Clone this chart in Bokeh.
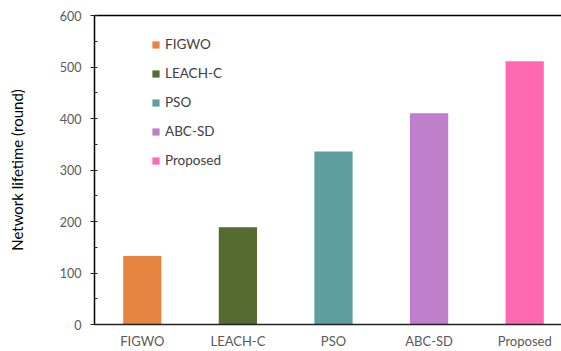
from bokeh.plotting import figure
from bokeh.models import (ColumnDataSource, Range1d, LinearAxis, FixedTicker,
                          SingleIntervalTicker, Legend, LegendItem)
from bokeh.embed import file_html
from bokeh.resources import INLINE

# Network lifetime (rounds) per clustering method
methods = ["FIGWO", "LEACH-C", "PSO", "ABC-SD", "Proposed"]
lifetime = [133, 189, 336, 410, 511]
colors = ["#E5853F", "#556B2F", "#5F9EA0", "#BF7FCB", "#FF69B4"]

FONT = "Lato"
positions = list(range(len(methods)))

p = figure(width=561, height=351, output_backend="svg", toolbar_location=None,
           x_range=Range1d(-0.5, 4.385), y_range=Range1d(0, 600),
           min_border_left=94, min_border_right=0, min_border_top=15,
           min_border_bottom=27)
p.outline_line_color = None
p.background_fill_color = "white"
p.border_fill_color = "white"
p.grid.grid_line_color = None

renderers = []
for i in positions:
    sub = ColumnDataSource(data=dict(x=[positions[i]], top=[lifetime[i]]))
    r = p.vbar(x="x", top="top", width=0.4, source=sub, fill_color=colors[i],
               line_color=None)
    renderers.append(r)

# y axis: major ticks outward, minor ticks inward
yax = p.yaxis[0]
yax.ticker = SingleIntervalTicker(interval=100, num_minor_ticks=2)
yax.axis_line_color = "black"
yax.axis_line_width = 1.5
yax.major_tick_out = 4
yax.major_tick_in = 0
yax.minor_tick_in = 3
yax.minor_tick_out = 0
yax.major_tick_line_color = "#222222"
yax.minor_tick_line_color = "#222222"
yax.major_label_text_font = FONT
yax.major_label_text_font_size = "12.5px"
yax.major_label_text_color = "#595959"
yax.major_label_standoff = 9
yax.axis_label = "Network lifetime (round)"
yax.axis_label_text_font = FONT
yax.axis_label_text_font_size = "15px"
yax.axis_label_text_font_style = "normal"
yax.axis_label_text_color = "black"
yax.axis_label_standoff = 31

# x axis: category names, no ticks
xax = p.xaxis[0]
xax.ticker = FixedTicker(ticks=positions)
xax.major_label_overrides = {i: m for i, m in zip(positions, methods)}
xax.axis_line_color = "#222222"
xax.axis_line_width = 1.5
xax.major_tick_line_color = None
xax.minor_tick_line_color = None
xax.major_tick_out = 0
xax.major_tick_in = 0
xax.major_label_text_font = FONT
xax.major_label_text_font_size = "13px"
xax.major_label_text_color = "#595959"
xax.major_label_standoff = 8
xax.axis_label_standoff = 0

# top border line
top_axis = LinearAxis(ticker=FixedTicker(ticks=[]), axis_line_color="black",
                      axis_line_width=1.5, major_tick_line_color=None,
                      minor_tick_line_color=None, major_label_text_font_size="0px",
                      major_tick_out=0, major_tick_in=0, major_label_standoff=0,
                      axis_label_standoff=0)
p.add_layout(top_axis, "above")

legend = Legend(items=[LegendItem(label=m, renderers=[r]) for m, r in zip(methods, renderers)],
                location=(57, 156), orientation="vertical")
legend.glyph_width = 9
legend.glyph_height = 9
legend.label_height = 15
legend.label_standoff = 5
legend.spacing = 13
legend.padding = 0
legend.margin = 0
legend.border_line_color = None
legend.background_fill_alpha = 0
legend.label_text_font = FONT
legend.label_text_font_size = "13.5px"
legend.label_text_color = "#404040"
p.add_layout(legend, "center")

open("out.html", "w").write(file_html(p, INLINE))
